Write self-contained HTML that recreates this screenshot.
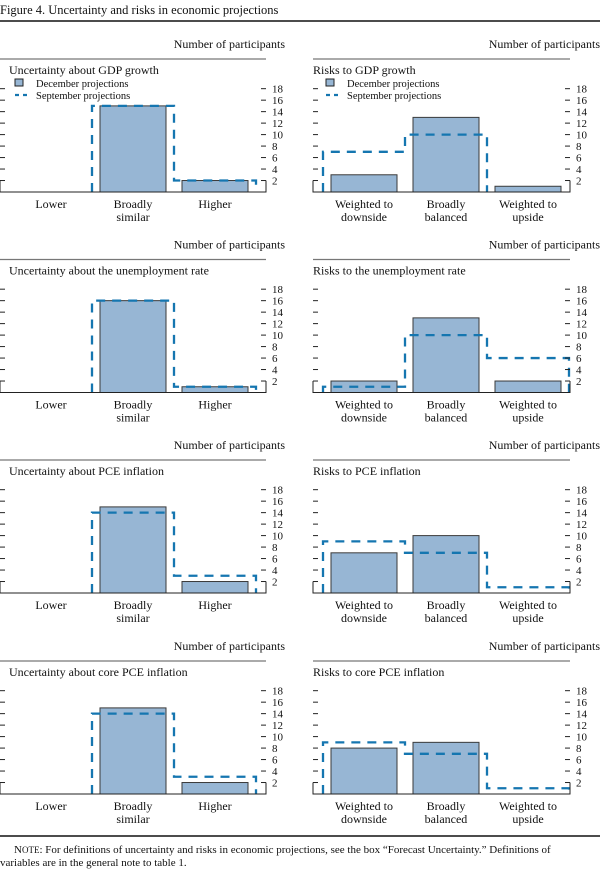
<!DOCTYPE html>
<html><head><meta charset="utf-8"><style>
html,body{margin:0;padding:0;background:#fff;}
svg{display:block;font-family:"Liberation Serif",serif;}
</style></head><body>
<svg id="chart" width="600" height="873" viewBox="0 0 600 873" xmlns="http://www.w3.org/2000/svg">
<text x="0" y="14" font-size="12.5" fill="#111">Figure 4. Uncertainty and risks in economic projections</text>
<line x1="0" y1="21" x2="600" y2="21" stroke="#111" stroke-width="1.5"/>
<line x1="0" y1="836" x2="600" y2="836" stroke="#111" stroke-width="1.5"/>
<text x="14" y="853" font-size="11" fill="#111">N<tspan font-size="9">OTE</tspan>: For definitions of uncertainty and risks in economic projections, see the box “Forecast Uncertainty.” Definitions of</text>
<text x="0" y="866" font-size="11" fill="#111">variables are in the general note to table 1.</text>
<g id="panels"></g>
</svg>
<script>
const titles = ["Uncertainty about GDP growth","Risks to GDP growth","Uncertainty about the unemployment rate","Risks to the unemployment rate","Uncertainty about PCE inflation","Risks to PCE inflation","Uncertainty about core PCE inflation","Risks to core PCE inflation"];
const uncCategories = [["Lower"],["Broadly","similar"],["Higher"]];
const riskCategories = [["Weighted to","downside"],["Broadly","balanced"],["Weighted to","upside"]];
const decemberValues = [[0,15,2],[3,13,1],[0,16,1],[2,13,2],[0,15,2],[7,10,0],[0,15,2],[8,9,0]];
const septemberValues = [[0,15,2],[7,10,0],[0,16,1],[1,10,6],[0,14,3],[9,7,1],[0,14,3],[9,7,1]];
const tickValues = [2,4,6,8,10,12,14,16,18];
const tickLabels = ["2","4","6","8","10","12","14","16","18"];

const NS = "http://www.w3.org/2000/svg";
const root = document.getElementById('panels');
function mk(tag, attrs, parent){const e=document.createElementNS(NS,tag);for(const k in attrs)e.setAttribute(k,attrs[k]);parent.appendChild(e);return e;}
const baselines=[192,392.5,593,794];
const unit=5.74;
const slotW=82, barW=66;
for(let p=0;p<8;p++){
  const row=Math.floor(p/2), col=p%2;
  const base=baselines[row];
  const xl = col===0?0:313, xr = col===0?266:570, s0 = col===0?10:323;
  const y = v => base - v*unit;
  const xs = i => s0 + i*slotW;
  const g=mk('g',{},root);
  
  
  const h=mk('text',{x:col===0?285:600,y:base-144,'font-size':12,'text-anchor':'end',fill:'#111'},g);
  h.textContent="Number of participants";
  
  
  const r=mk('line',{x1:xl,x2:col===0?266:570,y1:base-133,y2:base-133,stroke:'#777','stroke-width':1.2},g);
  
  
  const t=mk('text',{x:xl+(col===0?9:0),y:base-118,'font-size':12,fill:'#111'},g);
  t.textContent=titles[p];
  
  
  const cats = col===0?uncCategories:riskCategories;
  for(let i=0;i<3;i++){
    const v=decemberValues[p][i];
    if(v>0){
      const b=mk('rect',{x:xs(i)+(slotW-barW)/2,y:y(v),width:barW,height:v*unit,fill:'#97b6d4',stroke:'#3a3a3a','stroke-width':1},g);
      
      
    }
    const lab=mk('text',{x:xs(i)+slotW/2,y:base+16,'font-size':12,'text-anchor':'middle',fill:'#111'},g);
    
    
    cats[i].forEach((line,k)=>{const ts=mk('tspan',{x:xs(i)+slotW/2,dy:k===0?0:13},lab);ts.textContent=line;});
  }
  // september step line (segments at zero are hidden under the axis)
  const sv=septemberValues[p];
  let d='';
  let prev=0;
  for(let i=0;i<3;i++){
    const v=sv[i];
    if(v>0){
      if(prev>0){d+=`V${y(v)}`;} else {d+=`M${xs(i)} ${base}V${y(v)}`;}
      d+=`H${xs(i+1)}`;
    } else if(prev>0){
      d+=`V${base}`;
    }
    prev=v;
  }
  if(prev>0) d+=`V${base}`;
  if(d){
    const sl=mk('path',{d:d,fill:'none',stroke:'#1576b0','stroke-width':2.3,'stroke-dasharray':'9,7'},g);
    
    
  }
  const f=mk('path',{d:`M${xl} ${y(2)}V${base}H${xr}V${y(2)}`,fill:'none',stroke:'#222','stroke-width':1},g);
  
  
  tickValues.forEach((tv,k)=>{
    const a=mk('line',{x1:xl,x2:xl+5,y1:y(tv),y2:y(tv),stroke:'#222','stroke-width':1},g);
    
    
    const b=mk('line',{x1:xr-5,x2:xr,y1:y(tv),y2:y(tv),stroke:'#222','stroke-width':1},g);
    
    
    const tl=mk('text',{x:xr+6,y:y(tv)+4,'font-size':11,fill:'#111'},g);
    tl.textContent=tickLabels[k];
    
    
  });
  if(p<2){
    const lg=mk('g',{},g);
    
    
    const lx=xl+(col===0?15:13);
    const sq=mk('rect',{x:lx,y:base-113,width:8,height:7,fill:'#97b6d4',stroke:'#222','stroke-width':1},lg);
    
    
    const t1=mk('text',{x:lx+21,y:base-105,'font-size':10.5,fill:'#111'},lg);
    t1.textContent="December projections";
    
    
    const dl=mk('line',{x1:lx,x2:lx+15,y1:base-97,y2:base-97,stroke:'#1576b0','stroke-width':2.3,'stroke-dasharray':'4,4'},lg);
    
    
    const t2=mk('text',{x:lx+21,y:base-93,'font-size':10.5,fill:'#111'},lg);
    t2.textContent="September projections";
    
    
  }
}
</script>
</body></html>
